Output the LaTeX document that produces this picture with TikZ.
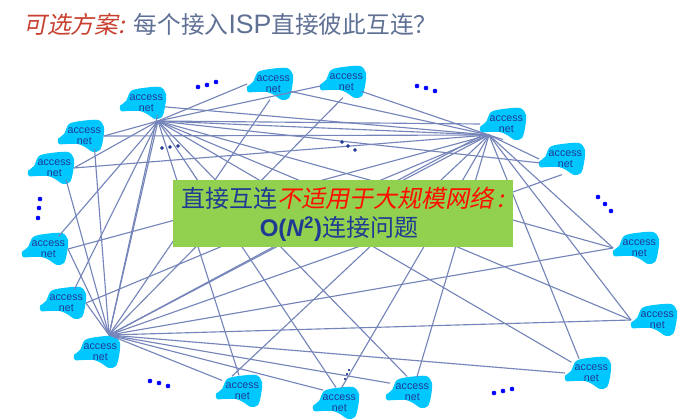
\documentclass[tikz,border=0pt]{standalone}
\usepackage{fontspec}
\setmainfont{Liberation Sans}
\newfontfamily\cjk{Noto Sans CJK SC}
\newfontfamily\cjkslant[FakeSlant=0.2]{Noto Sans CJK SC}
\usetikzlibrary{shapes.geometric}
\definecolor{cloudblue}{HTML}{00C8FF}
\definecolor{labelblue}{HTML}{1F3A93}
\definecolor{linkblue}{HTML}{7585BA}
\definecolor{boxgreen}{HTML}{92D050}
\definecolor{titlered}{HTML}{C8402F}
\definecolor{titlegray}{HTML}{5F7095}
\tikzset{
    accessnet/.style={ellipse, minimum width=34pt, minimum height=23pt, inner xsep=-3pt, inner ysep=0pt, align=center,
        text=labelblue, font=\fontsize{8}{7.8}\selectfont},
    link/.style={linkblue, line width=0.85pt},
    bluedot/.style={blue, fill=blue},
    darkdot/.style={labelblue, fill=labelblue}
}
\newcommand{\netlabel}{\hspace*{5pt}access\\\hspace*{5pt}net}
\begin{document}
\begin{tikzpicture}[x=0.75pt, y=-0.75pt]
                \useasboundingbox (0,0) rectangle (688,420);
                % Title
                \node[anchor=west, inner sep=0pt, font=\fontsize{17.8}{20}\selectfont] (title) at (23,24)
                    {\textcolor{titlered}{\cjkslant 可选方案:} \textcolor{titlegray}{\cjk 每个接入{\fontspec{Liberation Sans}\fontsize{20}{20}\selectfont ISP}直接彼此互连？}};
                % Clouds
                \foreach \name/\x/\y in {neta/143/103, netb/81/136, netc/51/168, netd/270/84,
                    nete/343/82, netf/503/124, netg/562/159, neth/636/248, neti/654/320, netj/588/373,
                    netk/409/392, netl/336/403, netm/239/391, netn/97/352, neto/63/303, netp/45/249} {
                    \fill[cloudblue, shift={(\x,\y)}] plot[smooth cycle, tension=0.5] coordinates {
                        (-23,3) (-17,-2) (-12,-12) (0,-15) (17,-16) (23,-9) (22,4) (19,14) (12,16)
                        (4,11) (-3,8) (-14,8) (-22,8)
                    };
                    \node[accessnet] (\name) at (\x,\y) {\netlabel};
                }
                % Hubs
                \coordinate (huba) at (158,121);
                \coordinate (hubf) at (489,135);
                \coordinate (hubn) at (109,335);
                % Links
                \foreach \to in {netb.east, netc.east, netd.west, nete.-170, netf.west, netg.-170, neth.west, neti.west,
                    netj.147, netk.97, netl.north, netm.north, neto.50, netp.43, hubn, hubf}
                    \draw[link] (huba) -- (\to);
                \foreach \to in {neta.-10, netb.east, netc.east, netd.-20, nete.-27, netf.south, netg.west, neth.west, neti.west,
                    netj.122, netk.62, netl.70, netm.115, neto.east, netp.east}
                    \draw[link] (hubf) -- (\to);
                \foreach \to in {neta.-40, netb.-43, netc.-38, netd.south, nete.south, netf, netg.south, neth.west, neti.west,
                    netj.west, netk.155, netl.135, netm.148, neto.east, netp.east, hubf}
                    \draw[link] (hubn) -- (\to);
                % Blue dots
                \foreach \x/\y in {198/87, 207/85, 216/82, 417/86, 426/88, 435/91, 598/197, 605/204, 611/211,
                    40/199, 39/208, 38/218, 150/381, 159/383, 168/386, 494/393, 503/391, 512/389}
                    \filldraw[bluedot] (\x,\y) circle (2);
                % Dark dots
                \foreach \x/\y in {162/148, 170/147, 178/146, 342/142, 348/146, 355/150}
                    \filldraw[darkdot] (\x,\y) circle (1.6);
                \foreach \x/\y in {349/370, 347/374, 345/379}
                    \filldraw[darkdot] (\x,\y) circle (0.8);
                % Green box
                \fill[boxgreen] (173,180) rectangle (513,247);
                \node[inner sep=0pt, font=\fontsize{18}{20}\selectfont, text=labelblue] (boxtop) at (343,198)
                    {\cjk 直接互连\textcolor{red!90!orange}{\cjkslant 不适用于大规模网络\hspace{3pt}:}};
                \node[inner sep=0pt, font=\fontsize{18}{20}\selectfont, text=labelblue] (boxbottom) at (339,229)
                    {\textbf{O(\textit{N}\textsuperscript{2})}{\cjk 连接问题}};
            \end{tikzpicture}
\end{document}
